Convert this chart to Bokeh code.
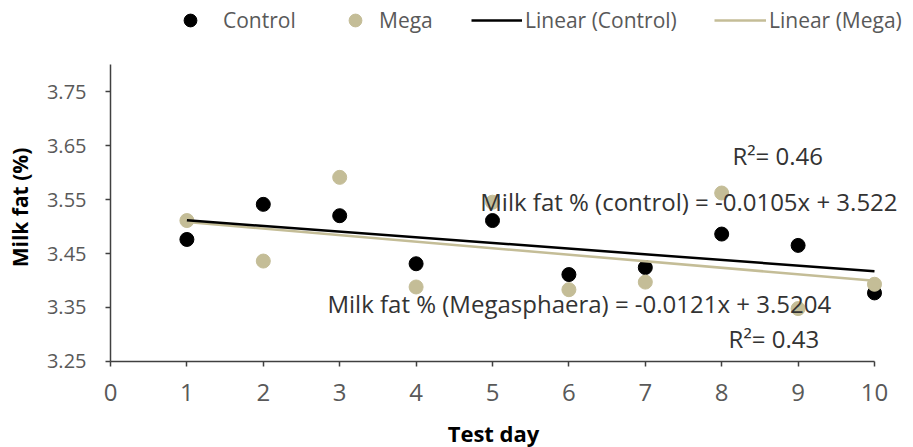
import math

from bokeh.plotting import figure
from bokeh.models import (Range1d, FixedTicker, NumeralTickFormatter, Legend,
                          LegendItem, Label)
from bokeh.embed import file_html
from bokeh.resources import INLINE

# Milk fat (%) per test day for the two groups
days = [1, 2, 3, 4, 5, 6, 7, 8, 9, 10]
control = [3.476, 3.541, 3.520, 3.431, 3.511, 3.411, 3.424, 3.486, 3.465, 3.377]
mega = [3.511, 3.436, 3.591, 3.388, 3.545, 3.383, 3.397, 3.562, 3.348, 3.393]

# Fitted linear trends (slope, intercept) and their R² values
control_fit = (-0.0105, 3.522)
mega_fit = (-0.0121, 3.5204)
control_r2 = 0.46
mega_r2 = 0.43

x_ticks = [0, 1, 2, 3, 4, 5, 6, 7, 8, 9, 10]
y_ticks = [3.25, 3.35, 3.45, 3.55, 3.65, 3.75]
x_axis_span = (0, 10)
y_axis_span = (3.25, 3.80)

BLACK = "#000000"
TAN = "#C4BD97"
GREY = "#595959"
FONT = "Open Sans"

# The plotting area covers the whole canvas; the axes are pinned at
# x = 0 and y = 3.25 and bounded to their own spans, so every text
# (legend, axis titles, equations) can sit freely around them.
p = figure(width=913, height=447, output_backend="svg", toolbar_location=None,
           x_range=Range1d(-1.43979, 10.5105),
           y_range=Range1d(3.09074, 3.91852),
           min_border_left=0, min_border_right=0,
           min_border_top=0, min_border_bottom=0)
p.outline_line_color = None
p.xgrid.grid_line_color = None
p.ygrid.grid_line_color = None
p.background_fill_color = "white"
p.border_fill_color = "white"

# Axes
for ax in (p.xaxis[0], p.yaxis[0]):
    ax.axis_line_color = "#404040"
    ax.axis_line_width = 1.5
    ax.major_tick_line_color = "#404040"
    ax.major_tick_line_width = 1.5
    ax.major_tick_in = 0
    ax.major_tick_out = 5
    ax.minor_tick_line_color = None
    ax.major_label_text_color = GREY
    ax.major_label_text_font = FONT

p.xaxis.fixed_location = y_axis_span[0]
p.xaxis.bounds = x_axis_span
p.xaxis.ticker = FixedTicker(ticks=x_ticks)
p.xaxis.major_label_text_font_size = "24px"
p.xaxis.major_label_standoff = 18

p.yaxis.fixed_location = x_axis_span[0]
p.yaxis.bounds = y_axis_span
p.yaxis.ticker = FixedTicker(ticks=y_ticks)
p.yaxis.formatter = NumeralTickFormatter(format="0.00")
p.yaxis.major_label_text_font_size = "20px"
p.yaxis.major_label_standoff = 19

# Axis titles
p.add_layout(Label(x=19, y=240, x_units="screen", y_units="screen",
                   text="Milk fat (%)", angle=math.pi / 2,
                   text_align="center", text_baseline="middle",
                   text_font=FONT, text_font_size="21px",
                   text_font_style="bold", text_color=BLACK))
p.add_layout(Label(x=493, y=15, x_units="screen", y_units="screen",
                   text="Test day", text_align="center",
                   text_baseline="middle", text_font=FONT,
                   text_font_size="22px", text_font_style="bold",
                   text_color=BLACK))

# Scatter points
r_control = p.scatter(days, control, size=14, color=BLACK)
r_mega = p.scatter(days, mega, size=14, color=TAN)

# Trend lines over the observed day span
x_fit = [min(days), max(days)]
mega_line = [mega_fit[0] * x + mega_fit[1] for x in x_fit]
control_line = [control_fit[0] * x + control_fit[1] for x in x_fit]
r_mega_fit = p.line(x_fit, mega_line, line_color=TAN, line_width=2.5)
r_control_fit = p.line(x_fit, control_line, line_color=BLACK, line_width=2.5)

# Legend entries across the top, one box per entry
def legend_entry(label, renderer, left, glyph_w, standoff):
    lg = Legend(items=[LegendItem(label=label, renderers=[renderer])],
                location=(left, 411), orientation="horizontal",
                glyph_width=glyph_w, glyph_height=32, label_height=32,
                label_standoff=standoff, padding=0, margin=0,
                border_line_color=None, background_fill_alpha=0,
                label_text_font=FONT, label_text_font_size="21px",
                label_text_color=GREY)
    p.add_layout(lg)

legend_entry("Control", r_control, 162, 56, 5)
legend_entry("Mega", r_mega, 334, 42, 3)
legend_entry("Linear (Control)", r_control_fit, 471, 51, 3)
legend_entry("Linear (Mega)", r_mega_fit, 714, 52, 3)

# Trend equations and R² values
def note(x, y, text):
    p.add_layout(Label(x=x, y=y, x_units="data", y_units="data", text=text,
                       text_font=FONT, text_font_size="24px",
                       text_color="#333333", text_baseline="alphabetic"))

note(8.14, 3.6306, f"R²= {control_r2:.2f}")
note(4.84, 3.5472,
     f"Milk fat % (control) = {control_fit[0]}x + {control_fit[1]}")
note(2.84, 3.3583,
     f"Milk fat % (Megasphaera) = {mega_fit[0]}x + {mega_fit[1]}")
note(8.09, 3.2917, f"R²= {mega_r2:.2f}")

open("out.html", "w").write(file_html(p, INLINE))
